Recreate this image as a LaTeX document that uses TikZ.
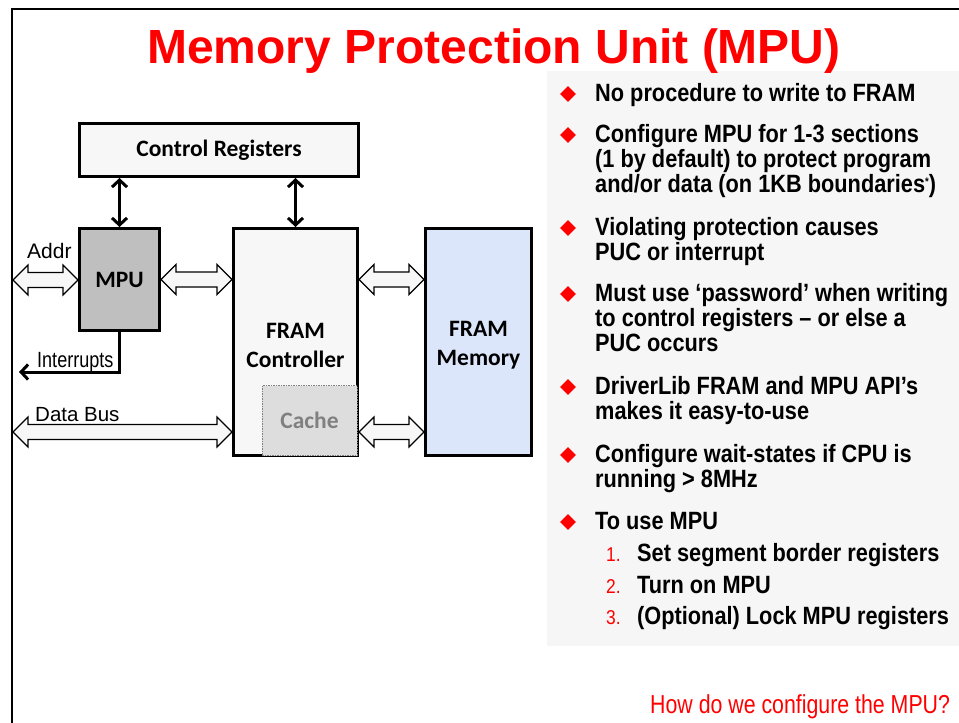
\documentclass[tikz,border=0pt]{standalone}
\usepackage{fontspec}
\setmainfont{Liberation Sans}
\newfontfamily\titlefont{Liberation Sans}
\newfontfamily\bulletfont[FakeStretch=0.87]{Liberation Sans}
\newfontfamily\narrowfont[FakeStretch=0.82]{Liberation Sans}
\newfontfamily\boxfont{Carlito}
\usetikzlibrary{arrows.meta,calc}
\definecolor{tired}{RGB}{255,0,0}
\definecolor{panelgray}{RGB}{246,246,246}
\definecolor{boxfill}{RGB}{247,247,247}
\definecolor{mpugray}{RGB}{191,191,191}
\definecolor{cachegray}{RGB}{221,221,221}
\definecolor{cachetext}{RGB}{128,128,128}
\definecolor{memblue}{RGB}{220,230,250}
\tikzset{
  blk/.style={draw=black, line width=3pt, inner sep=0pt, align=center,
    font=\boxfont\bfseries\fontsize{23.5}{29}\selectfont},
  boxtxt/.style={inner sep=0pt, align=center, font=\boxfont\bfseries\fontsize{23.5}{29}\selectfont},
  thickarr/.style={line width=3pt, {Straight Barb[length=7pt,width=15pt]}-{Straight Barb[length=7pt,width=15pt]}},
  intarr/.style={line width=3pt, -{Straight Barb[length=7pt,width=15pt]}},
  blockarr/.style={draw=black, line width=1.2pt, fill=boxfill, line join=miter},
  bul/.style={fill=tired, minimum size=11pt, inner sep=0pt, rotate=45},
  btxt/.style={anchor=base west, inner sep=0pt, font=\bulletfont\bfseries\fontsize{25}{25}\selectfont},
  numtxt/.style={anchor=base west, inner sep=0pt, text=tired, font=\bulletfont\fontsize{20}{20}\selectfont},
  lbl/.style={anchor=base west, inner sep=0pt, font=\fontsize{20}{20}\selectfont},
}
\newcommand\blockarrow[2]{%
  \draw[blockarr] let \p1=#1, \p2=#2 in
  (\x1,\y1) -- (\x1+15pt,\y1+15pt) -- (\x1+15pt,\y1+7.5pt) -- (\x2-15pt,\y1+7.5pt)
  -- (\x2-15pt,\y1+15pt) -- (\x2,\y1) -- (\x2-15pt,\y1-15pt) -- (\x2-15pt,\y1-7.5pt)
  -- (\x1+15pt,\y1-7.5pt) -- (\x1+15pt,\y1-15pt) -- cycle;}
\begin{document}
\begin{tikzpicture}[x=1pt,y=-1pt]
\useasboundingbox (0,0) rectangle (959,723);
\fill[white] (0,0) rectangle (959,723);
% frame
\draw[line width=2pt] (12,723) -- (12,9) -- (959,9);
% right panel
\fill[panelgray] (547,71) rectangle (959,646);
% title
\node[anchor=base, inner sep=0pt, text=tired, font=\titlefont\bfseries\fontsize{48}{48}\selectfont] (title) at (494,63) {Memory Protection Unit (MPU)};

% boxes
\node[blk, fill=boxfill, minimum width=279pt, minimum height=53pt] (ctrl) at (219,150) {Control Registers};
\node[blk, fill=mpugray, minimum width=80pt, minimum height=102pt] (mpu) at (119.5,279.5) {MPU};
\node[blk, fill=boxfill, minimum width=124pt, minimum height=227pt] (fctrl) at (295.5,342) {};
\node[draw=cachetext, dash pattern=on 1.5pt off 1pt, line width=0.6pt, fill=cachegray, minimum width=95pt, minimum height=70pt, inner sep=0pt, text=cachetext, font=\boxfont\bfseries\fontsize{23.5}{23.5}\selectfont] (cache) at (309.5,420.5) {Cache};
\node[boxtxt] (fctrltxt) at (295.5,345) {FRAM\\Controller};
\node[blk, fill=memblue, minimum width=106pt, minimum height=227pt] (fmem) at (478.5,342) {};
\node[boxtxt] (fmemtxt) at (478.5,345) {FRAM\\Memory};

% thin double arrows
\draw[thickarr] (ctrl.south -| mpu.north) -- (mpu.north);
\draw[thickarr] (ctrl.south -| fctrl.north) -- (fctrl.north);
\coordinate (intend) at (19,372);
\draw[intarr] (mpu.south) |- (intend);

% block arrows
\coordinate (addrend) at (13,280);
\coordinate (dataend) at (13,432);
\blockarrow{(addrend)}{(mpu.west)}
\blockarrow{(mpu.east)}{(mpu.east -| fctrl.west)}
\blockarrow{(mpu.east -| fctrl.east)}{(mpu.east -| fmem.west)}
\blockarrow{(dataend)}{(dataend -| fctrl.west)}
\blockarrow{(dataend -| fctrl.east)}{(dataend -| fmem.west)}

% labels
\node[lbl, font=\fontsize{21}{21}\selectfont] (addr) at (27,258) {Addr};
\node[lbl, font=\narrowfont\fontsize{22}{22}\selectfont] (intr) at (37,367) {Interrupts};
\node[lbl, font=\fontsize{20.5}{20.5}\selectfont] (dbus) at (35,421) {Data Bus};

% bullets
\node[bul] (b1) at (568,94) {};
\node[bul] (b2) at (568,135) {};
\node[bul] (b3) at (568,228) {};
\node[bul] (b4) at (568,294) {};
\node[bul] (b5) at (568,387) {};
\node[bul] (b6) at (568,455) {};
\node[bul] (b7) at (568,522) {};

\node[btxt] (t1) at (595,101) {No procedure to write to FRAM};
\node[btxt] (t2a) at (595,142) {Configure MPU for 1-3 sections};
\node[btxt] (t2b) at (595,167) {(1 by default) to protect program};
\node[btxt] (t2c) at (595,192) {and/or data (on 1KB boundaries\raisebox{7pt}{\fontsize{11}{11}\selectfont *})};
\node[btxt] (t3a) at (595,235) {Violating protection causes};
\node[btxt] (t3b) at (595,260) {PUC or interrupt};
\node[btxt] (t4a) at (595,301) {Must use ‘password’ when writing};
\node[btxt] (t4b) at (595,326) {to control registers – or else a};
\node[btxt] (t4c) at (595,351) {PUC occurs};
\node[btxt] (t5a) at (595,394) {DriverLib FRAM and MPU API’s};
\node[btxt] (t5b) at (595,419) {makes it easy-to-use};
\node[btxt] (t6a) at (595,462) {Configure wait-states if CPU is};
\node[btxt] (t6b) at (595,487) {running > 8MHz};
\node[btxt] (t7) at (595,529) {To use MPU};

\node[numtxt] (n1) at (606,561) {1.};
\node[numtxt] (n2) at (606,593) {2.};
\node[numtxt] (n3) at (606,624) {3.};
\node[btxt] (s1) at (637,561) {Set segment border registers};
\node[btxt] (s2) at (637,593) {Turn on MPU};
\node[btxt] (s3) at (637,624) {(Optional) Lock MPU registers};

% bottom question
\node[anchor=base west, inner sep=0pt, text=tired, font=\narrowfont\fontsize{26}{26}\selectfont] (q) at (650,713) {How do we configure the MPU?};
\end{tikzpicture}
\end{document}
